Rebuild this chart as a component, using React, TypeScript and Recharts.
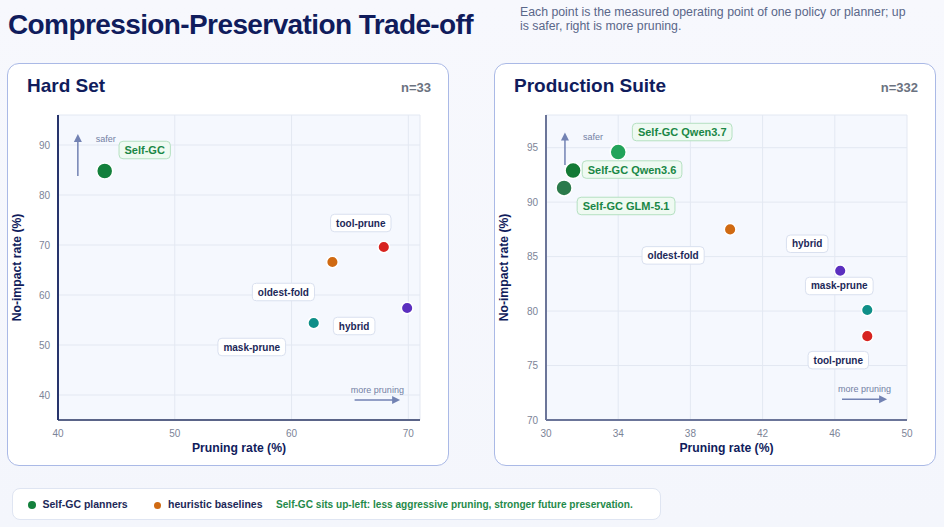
import { ScatterChart, Scatter, XAxis, YAxis, CartesianGrid, ReferenceLine } from "recharts"

const FONT = '"Liberation Sans", Arial, Helvetica, sans-serif'
const NAVY = "#101c5c"

// Hard Set (n=33)
const hardSelfNames = ["Self-GC"]
const hardSelfPruning = [44.0]
const hardSelfNoImpact = [84.8]
const hardBaseNames = ["tool-prune", "oldest-fold", "hybrid", "mask-prune"]
const hardBasePruning = [67.9, 63.5, 69.9, 61.9]
const hardBaseNoImpact = [69.6, 66.6, 57.4, 54.4]
const hardXTicks = [40, 50, 60, 70]
const hardYTicks = [40, 50, 60, 70, 80, 90]

// Production Suite (n=332)
const prodSelfNames = ["Self-GC Qwen3.7", "Self-GC Qwen3.6", "Self-GC GLM-5.1"]
const prodSelfPruning = [34.0, 31.5, 31.0]
const prodSelfNoImpact = [94.6, 92.9, 91.3]
const prodBaseNames = ["oldest-fold", "hybrid", "mask-prune", "tool-prune"]
const prodBasePruning = [40.2, 46.3, 47.8, 47.8]
const prodBaseNoImpact = [87.5, 83.7, 80.1, 77.7]
const prodXTicks = [30, 34, 38, 42, 46, 50]
const prodYTicks = [70, 75, 80, 85, 90, 95]

const colors: Record<string, string> = {
  "Self-GC": "#13803c",
  "Self-GC Qwen3.7": "#22a35a",
  "Self-GC Qwen3.6": "#137a35",
  "Self-GC GLM-5.1": "#2b7a4b",
  "tool-prune": "#d7231f",
  "oldest-fold": "#d06a12",
  hybrid: "#5b2fbf",
  "mask-prune": "#0f8f88",
}

// label box offsets from each point, in px
const hardLabelOffsets: Record<string, [number, number]> = {
  "Self-GC": [40, -21],
  "tool-prune": [-23, -24],
  "oldest-fold": [-49, 30],
  hybrid: [-53, 18],
  "mask-prune": [-62, 24],
}
const prodLabelOffsets: Record<string, [number, number]> = {
  "Self-GC Qwen3.7": [64, -20],
  "Self-GC Qwen3.6": [59, -1],
  "Self-GC GLM-5.1": [62, 18],
  "oldest-fold": [-57, 26],
  hybrid: [-33, -27],
  "mask-prune": [-28, -24],
  "tool-prune": [-29, 24],
}

const toPoints = (names: string[], xs: number[], ys: number[]) =>
  names.map((name, i) => ({ name, x: xs[i], y: ys[i] }))

let measureCtx: CanvasRenderingContext2D | null = null
function textWidth(s: string, size: number) {
  if (!measureCtx) measureCtx = document.createElement("canvas").getContext("2d")
  if (!measureCtx) return s.length * size * 0.55
  measureCtx.font = `bold ${size}px "Liberation Sans"`
  return measureCtx.measureText(s).width
}

function makeMarker(offsets: Record<string, [number, number]>, self: boolean) {
  return (props: any) => {
    const { cx, cy, payload } = props
    const name = payload.name as string
    const [dx, dy] = offsets[name]
    const size = self ? 11 : 10
    const w = textWidth(name, size) + 11
    const h = 17.5
    const lx = cx + dx
    const ly = cy + dy
    return (
      <g>
        <circle cx={cx} cy={cy} r={self ? 8 : 5.8} fill={colors[name]} stroke="#fff" strokeWidth={1.5} />
        <rect
          x={lx - w / 2}
          y={ly - h / 2}
          width={w}
          height={h}
          rx={4}
          fill={self ? "#effaf2" : "#ffffff"}
          stroke={self ? "#b4e0c1" : "#d9e0ef"}
          strokeWidth={1}
        />
        <text
          x={lx}
          y={ly}
          textAnchor="middle"
          dominantBaseline="central"
          fontFamily={FONT}
          fontWeight={700}
          fontSize={size}
          fill={self ? "#1a8746" : "#1c2858"}
        >
          {name}
        </text>
      </g>
    )
  }
}

const ARROW = "#7282b3"

function upArrow(props: any) {
  const { x1, y1, y2 } = props
  const top = Math.min(y1, y2)
  const bottom = Math.max(y1, y2)
  return (
    <g>
      <line x1={x1} y1={bottom} x2={x1} y2={top + 6} stroke={ARROW} strokeWidth={1.5} />
      <polygon points={`${x1},${top} ${x1 - 4},${top + 8} ${x1 + 4},${top + 8}`} fill={ARROW} />
      <text x={x1 + 18} y={top + 8} fontFamily={FONT} fontSize={9} fill="#7380a4">
        safer
      </text>
    </g>
  )
}

function rightArrow(props: any) {
  const { x1, y1, x2 } = props
  const left = Math.min(x1, x2)
  const right = Math.max(x1, x2)
  return (
    <g>
      <line x1={left} y1={y1} x2={right - 6} y2={y1} stroke={ARROW} strokeWidth={1.5} />
      <polygon points={`${right},${y1} ${right - 8},${y1 - 4} ${right - 8},${y1 + 4}`} fill={ARROW} />
      <text x={(left + right) / 2} y={y1 - 7} textAnchor="middle" fontFamily={FONT} fontSize={9} fill="#7380a4">
        more pruning
      </text>
    </g>
  )
}

type PanelProps = {
  left: number
  title: string
  n: string
  self: { name: string; x: number; y: number }[]
  base: { name: string; x: number; y: number }[]
  offsets: Record<string, [number, number]>
  xDomain: [number, number]
  yDomain: [number, number]
  xTicks: number[]
  yTicks: number[]
  yAxisWidth: number
  yAxisColor: string
  xAxisColor: string
  safer: [number, number, number]
  pruning: [number, number, number]
}

function Panel(p: PanelProps) {
  const tick = { fill: "#7c8497", fontSize: 10, fontFamily: FONT }
  const axisLabel = { fill: NAVY, fontSize: 12.2, fontWeight: 700, fontFamily: FONT }
  return (
    <div
      style={{
        position: "absolute",
        left: p.left,
        top: 63,
        width: 442,
        height: 403,
        boxSizing: "border-box",
        border: "1.3px solid #aab9e6",
        borderRadius: 12,
        background: "#ffffff",
      }}
    >
      <div
        style={{
          position: "absolute",
          left: 19,
          top: 11,
          fontSize: 19,
          fontWeight: 700,
          color: NAVY,
          lineHeight: "22px",
        }}
      >
        {p.title}
      </div>
      <div
        style={{
          position: "absolute",
          right: 17,
          top: 15,
          fontSize: 13,
          fontWeight: 700,
          color: "#6b7280",
          lineHeight: "18px",
        }}
      >
        {p.n}
      </div>
      <div style={{ position: "absolute", left: 0, top: 0 }}>
        <ScatterChart width={440} height={396} margin={{ top: 51, right: 28, bottom: 0, left: 0 }}>
          <CartesianGrid fill="#f5f8fe" stroke="#e3e8f2" />
          <XAxis
            type="number"
            dataKey="x"
            domain={p.xDomain}
            ticks={p.xTicks}
            allowDataOverflow
            tickLine={false}
            tickMargin={4}
            axisLine={{ stroke: p.xAxisColor, strokeWidth: 2 }}
            tick={tick}
            height={40}
            label={{ value: "Pruning rate (%)", position: "insideBottom", offset: 8, style: axisLabel }}
          />
          <YAxis
            type="number"
            dataKey="y"
            domain={p.yDomain}
            ticks={p.yTicks}
            allowDataOverflow
            tickLine={false}
            axisLine={{ stroke: p.yAxisColor, strokeWidth: 2 }}
            tick={tick}
            width={p.yAxisWidth}
            label={{
              value: "No-impact rate (%)",
              angle: -90,
              position: "insideLeft",
              offset: 9,
              style: { ...axisLabel, textAnchor: "middle" },
            }}
          />
          <ReferenceLine
            segment={[
              { x: p.safer[0], y: p.safer[1] },
              { x: p.safer[0], y: p.safer[2] },
            ]}
            shape={upArrow}
          />
          <ReferenceLine
            segment={[
              { x: p.pruning[1], y: p.pruning[0] },
              { x: p.pruning[2], y: p.pruning[0] },
            ]}
            shape={rightArrow}
          />
          <Scatter data={p.base} shape={makeMarker(p.offsets, false)} isAnimationActive={false} />
          <Scatter data={p.self} shape={makeMarker(p.offsets, true)} isAnimationActive={false} />
        </ScatterChart>
      </div>
    </div>
  )
}

export default function App() {
  return (
    <div
      style={{
        position: "relative",
        width: 944,
        height: 527,
        overflow: "hidden",
        fontFamily: FONT,
        background: "linear-gradient(180deg, #f7f8fd 0%, #f4f6fc 100%)",
      }}
    >
      <style>{"body{margin:0}"}</style>
      <div
        style={{
          position: "absolute",
          left: 8,
          top: 8,
          fontSize: 28,
          fontWeight: 700,
          letterSpacing: -0.6,
          lineHeight: "34px",
          color: NAVY,
          whiteSpace: "nowrap",
        }}
      >
        Compression-Preservation Trade-off
      </div>
      <div
        style={{
          position: "absolute",
          left: 520,
          top: 5,
          width: 395,
          fontSize: 12.3,
          lineHeight: "14px",
          color: "#5a6789",
        }}
      >
        Each point is the measured operating point of one policy or planner; up is safer, right is more pruning.
      </div>

      <Panel
        left={7}
        title="Hard Set"
        n="n=33"
        self={toPoints(hardSelfNames, hardSelfPruning, hardSelfNoImpact)}
        base={toPoints(hardBaseNames, hardBasePruning, hardBaseNoImpact)}
        offsets={hardLabelOffsets}
        xDomain={[40, 71]}
        yDomain={[35, 96]}
        xTicks={hardXTicks}
        yTicks={hardYTicks}
        yAxisWidth={50}
        yAxisColor="#27346c"
        xAxisColor="#5a6488"
        safer={[41.7, 83.8, 92.2]}
        pruning={[39.0, 65.4, 69.3]}
      />
      <Panel
        left={494}
        title="Production Suite"
        n="n=332"
        self={toPoints(prodSelfNames, prodSelfPruning, prodSelfNoImpact)}
        base={toPoints(prodBaseNames, prodBasePruning, prodBaseNoImpact)}
        offsets={prodLabelOffsets}
        xDomain={[30, 50]}
        yDomain={[70, 98]}
        xTicks={prodXTicks}
        yTicks={prodYTicks}
        yAxisWidth={51}
        yAxisColor="#6b7599"
        xAxisColor="#6b7599"
        safer={[31.05, 93.4, 96.4]}
        pruning={[71.9, 46.4, 48.9]}
      />

      <div
        style={{
          position: "absolute",
          left: 12,
          top: 488,
          width: 649,
          height: 32,
          boxSizing: "border-box",
          border: "1px solid #dfe5f2",
          borderRadius: 8,
          background: "#ffffff",
          display: "flex",
          alignItems: "center",
          fontSize: 10.5,
          fontWeight: 700,
          whiteSpace: "nowrap",
        }}
      >
        <span
          style={{ position: "absolute", left: 14.5, top: 11.5, width: 8, height: 8, borderRadius: 4, background: "#13803c" }}
        />
        <span style={{ position: "absolute", left: 29.5, color: "#1c2858" }}>Self-GC planners</span>
        <span
          style={{ position: "absolute", left: 140.5, top: 12.5, width: 7, height: 7, borderRadius: 3.5, background: "#d06a12" }}
        />
        <span style={{ position: "absolute", left: 155, color: "#1c2858" }}>heuristic baselines</span>
        <span style={{ position: "absolute", left: 263, color: "#1f8a4a", fontSize: 10.1 }}>
          Self-GC sits up-left: less aggressive pruning, stronger future preservation.
        </span>
      </div>
    </div>
  )
}
